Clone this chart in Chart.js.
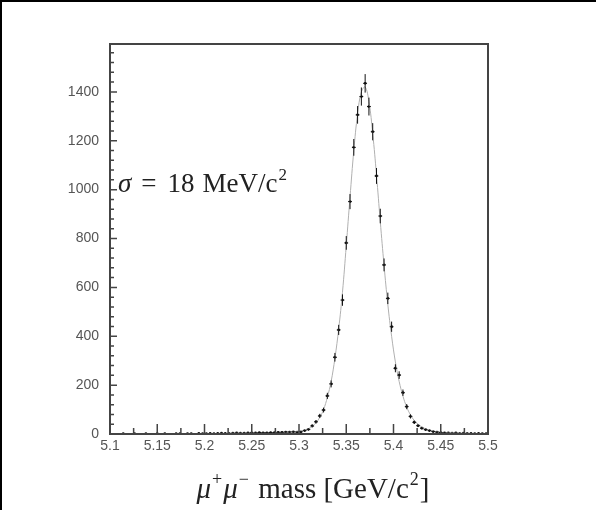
<!DOCTYPE html>
<html>
<head>
<meta charset="utf-8">
<script src="https://cdn.jsdelivr.net/npm/chart.js@4"></script>
<style>
  html, body { margin: 0; padding: 0; background: #fff; }
</style>
</head>
<body>
<canvas id="massChart" width="596" height="510"></canvas>
<script>
// histogram: 100 bins of 4 MeV from 5.1 to 5.5 GeV
const binLow = 5.1;
const binWidth = 0.004;

// entries per bin
const counts = [
  0, 0, 0, 1, 0, 0, 1, 0, 0, 1,
  0, 0, 1, 0, 1, 0, 0, 1, 1, 0,
  1, 1, 0, 2, 1, 1, 2, 1, 2, 3,
  2, 2, 3, 4, 3, 3, 4, 5, 4, 6,
  5, 5, 6, 6, 7, 7, 8, 8, 9, 8,
  9, 14, 19, 33, 50, 74, 98, 156, 205, 314,
  426, 548, 782, 951, 1173, 1306, 1381, 1435, 1340, 1237,
  1056, 892, 692, 555, 439, 269, 241, 169, 112, 72,
  48, 34, 24, 18, 14, 10, 8, 6, 5, 4,
  3, 4, 2, 3, 2, 2, 1, 2, 1, 1
];

// fitted curve at the bin centres
const fitValues = [
  1, 1, 1, 1, 1, 1, 1, 1, 1, 1,
  1, 1, 1, 1, 1, 1, 1, 1, 1, 1,
  1, 2, 2, 2, 2, 2, 2, 2, 2, 2,
  2, 3, 3, 3, 3, 3, 3, 3, 3, 3,
  4, 4, 5, 5, 6, 6, 7, 8, 9, 10,
  12, 16, 22, 31, 46, 68, 100, 150, 215, 310,
  430, 580, 770, 970, 1160, 1310, 1400, 1420, 1360, 1230,
  1060, 870, 690, 530, 400, 295, 215, 155, 110, 78,
  55, 40, 29, 21, 16, 12, 9, 7, 6, 5,
  4, 4, 3, 3, 3, 2, 2, 2, 2, 2
];

const xTicks = [5.1, 5.15, 5.2, 5.25, 5.3, 5.35, 5.4, 5.45, 5.5];
const yTicks = [0, 200, 400, 600, 800, 1000, 1200, 1400];

const binCentres = counts.map((_, i) => binLow + binWidth * (i + 0.5));
const points = counts.map((n, i) => ({ x: binCentres[i], y: n }));
const fitPoints = fitValues.map((v, i) => ({ x: binCentres[i], y: v }));

const FRAME = "#444";

// frame, tick marks, error bars and the TLatex-like labels
const rootStyle = {
  id: "rootStyle",
  afterDatasetsDraw(chart) {
    const { ctx, chartArea: a, scales: { x, y } } = chart;
    ctx.save();

    // error bars: sqrt(N) vertically, half a bin horizontally
    ctx.strokeStyle = "#111";
    ctx.lineWidth = 1;
    ctx.beginPath();
    counts.forEach((n, i) => {
      if (n <= 0) return;
      const c = binCentres[i];
      const err = Math.sqrt(n);
      const px = x.getPixelForValue(c);
      const py = y.getPixelForValue(n);
      ctx.moveTo(px, y.getPixelForValue(n - err));
      ctx.lineTo(px, y.getPixelForValue(n + err));
      ctx.moveTo(x.getPixelForValue(c - binWidth / 2), py);
      ctx.lineTo(x.getPixelForValue(c + binWidth / 2), py);
    });
    ctx.stroke();

    // frame
    ctx.strokeStyle = FRAME;
    ctx.lineWidth = 2;
    ctx.strokeRect(a.left, a.top, a.right - a.left, a.bottom - a.top);

    // tick marks inside the frame
    ctx.lineWidth = 1.5;
    ctx.beginPath();
    for (let v = 0; v <= y.max + 1; v += 40) {
      const py = y.getPixelForValue(v);
      const len = v % 200 === 0 ? 7 : 4;
      ctx.moveTo(a.left, py);
      ctx.lineTo(a.left + len, py);
    }
    for (let k = 0; k <= 16; k++) {
      const px = x.getPixelForValue(5.1 + k * 0.025);
      const len = k % 2 === 0 ? 10 : 6;
      ctx.moveTo(px, a.bottom);
      ctx.lineTo(px, a.bottom - len);
    }
    ctx.stroke();
    ctx.restore();
  },
  afterDraw(chart) {
    const { ctx } = chart;
    ctx.save();
    ctx.fillStyle = "#000";
    ctx.fillRect(0, 0, 596, 2);
    ctx.fillRect(0, 0, 2, 510);

    // draws a run of [text, font, dy, gap] pieces starting at x
    const run = (pieces, x0, base, draw) => {
      let cx = x0;
      pieces.forEach(([t, font, dy, gap]) => {
        ctx.font = font;
        cx += gap || 0;
        if (draw) ctx.fillText(t, cx, base + (dy || 0));
        cx += ctx.measureText(t).width;
      });
      return cx - x0;
    };

    ctx.fillStyle = "#222";
    ctx.textBaseline = "alphabetic";
    const serif = '"Liberation Serif", "DejaVu Serif", serif';

    // sigma label inside the plot
    const s = 27;
    run([
      ["\u03c3", `italic ${s}px ${serif}`],
      ["=", `${s}px ${serif}`, 0, 10],
      ["18", `${s}px ${serif}`, 0, 11],
      ["MeV/c", `${s}px ${serif}`, 0, 8],
      ["2", `17px ${serif}`, -12, 1]
    ], 118, 192, true);

    // x axis title
    const t = 29;
    const title = [
      ["\u03bc", `italic ${t}px ${serif}`],
      ["+", `18px ${serif}`, -13, 1],
      ["\u03bc", `italic ${t}px ${serif}`, 0, 1],
      ["\u2212", `18px ${serif}`, -13, 1],
      [" mass [GeV/c", `${t}px ${serif}`, 0, 2],
      ["2", `18px ${serif}`, -13, 1],
      ["]", `${t}px ${serif}`, 0, 1]
    ];
    const w = run(title, 0, 0, false);
    run(title, 313 - w / 2, 498, true);
    ctx.restore();
  }
};

new Chart(document.getElementById("massChart"), {
  type: "scatter",
  data: {
    datasets: [
      {
        label: "fit",
        data: fitPoints,
        showLine: true,
        borderColor: "#b0b0b0",
        borderWidth: 1,
        pointRadius: 0,
        tension: 0.4
      },
      {
        label: "data",
        data: points,
        pointRadius: (c) => (c.raw && c.raw.y > 0 ? 1.4 : 0),
        pointBackgroundColor: "#111",
        pointBorderWidth: 0
      }
    ]
  },
  options: {
    responsive: false,
    animation: false,
    layout: { padding: { top: 44, right: 108, left: 0, bottom: 0 } },
    plugins: { legend: { display: false }, tooltip: { enabled: false } },
    scales: {
      x: {
        type: "linear",
        min: 5.1,
        max: 5.5,
        afterBuildTicks: (s) => { s.ticks = xTicks.map((v) => ({ value: v })); },
        afterFit: (s) => { s.height = 76; },
        grid: { display: false, drawTicks: false },
        border: { display: false },
        ticks: {
          autoSkip: false,
          maxRotation: 0,
          padding: 4,
          color: "#555",
          font: { family: "Liberation Sans", size: 14 },
          callback: (v) => String(+v.toFixed(2))
        }
      },
      y: {
        min: 0,
        max: 1596,
        afterBuildTicks: (s) => { s.ticks = yTicks.map((v) => ({ value: v })); },
        afterFit: (s) => { s.width = 110; },
        grid: { display: false, drawTicks: false },
        border: { display: false },
        ticks: {
          padding: 11,
          color: "#555",
          font: { family: "Liberation Sans", size: 14 },
          callback: (v) => String(v)
        }
      }
    }
  },
  plugins: [rootStyle]
});
</script>
</body>
</html>
